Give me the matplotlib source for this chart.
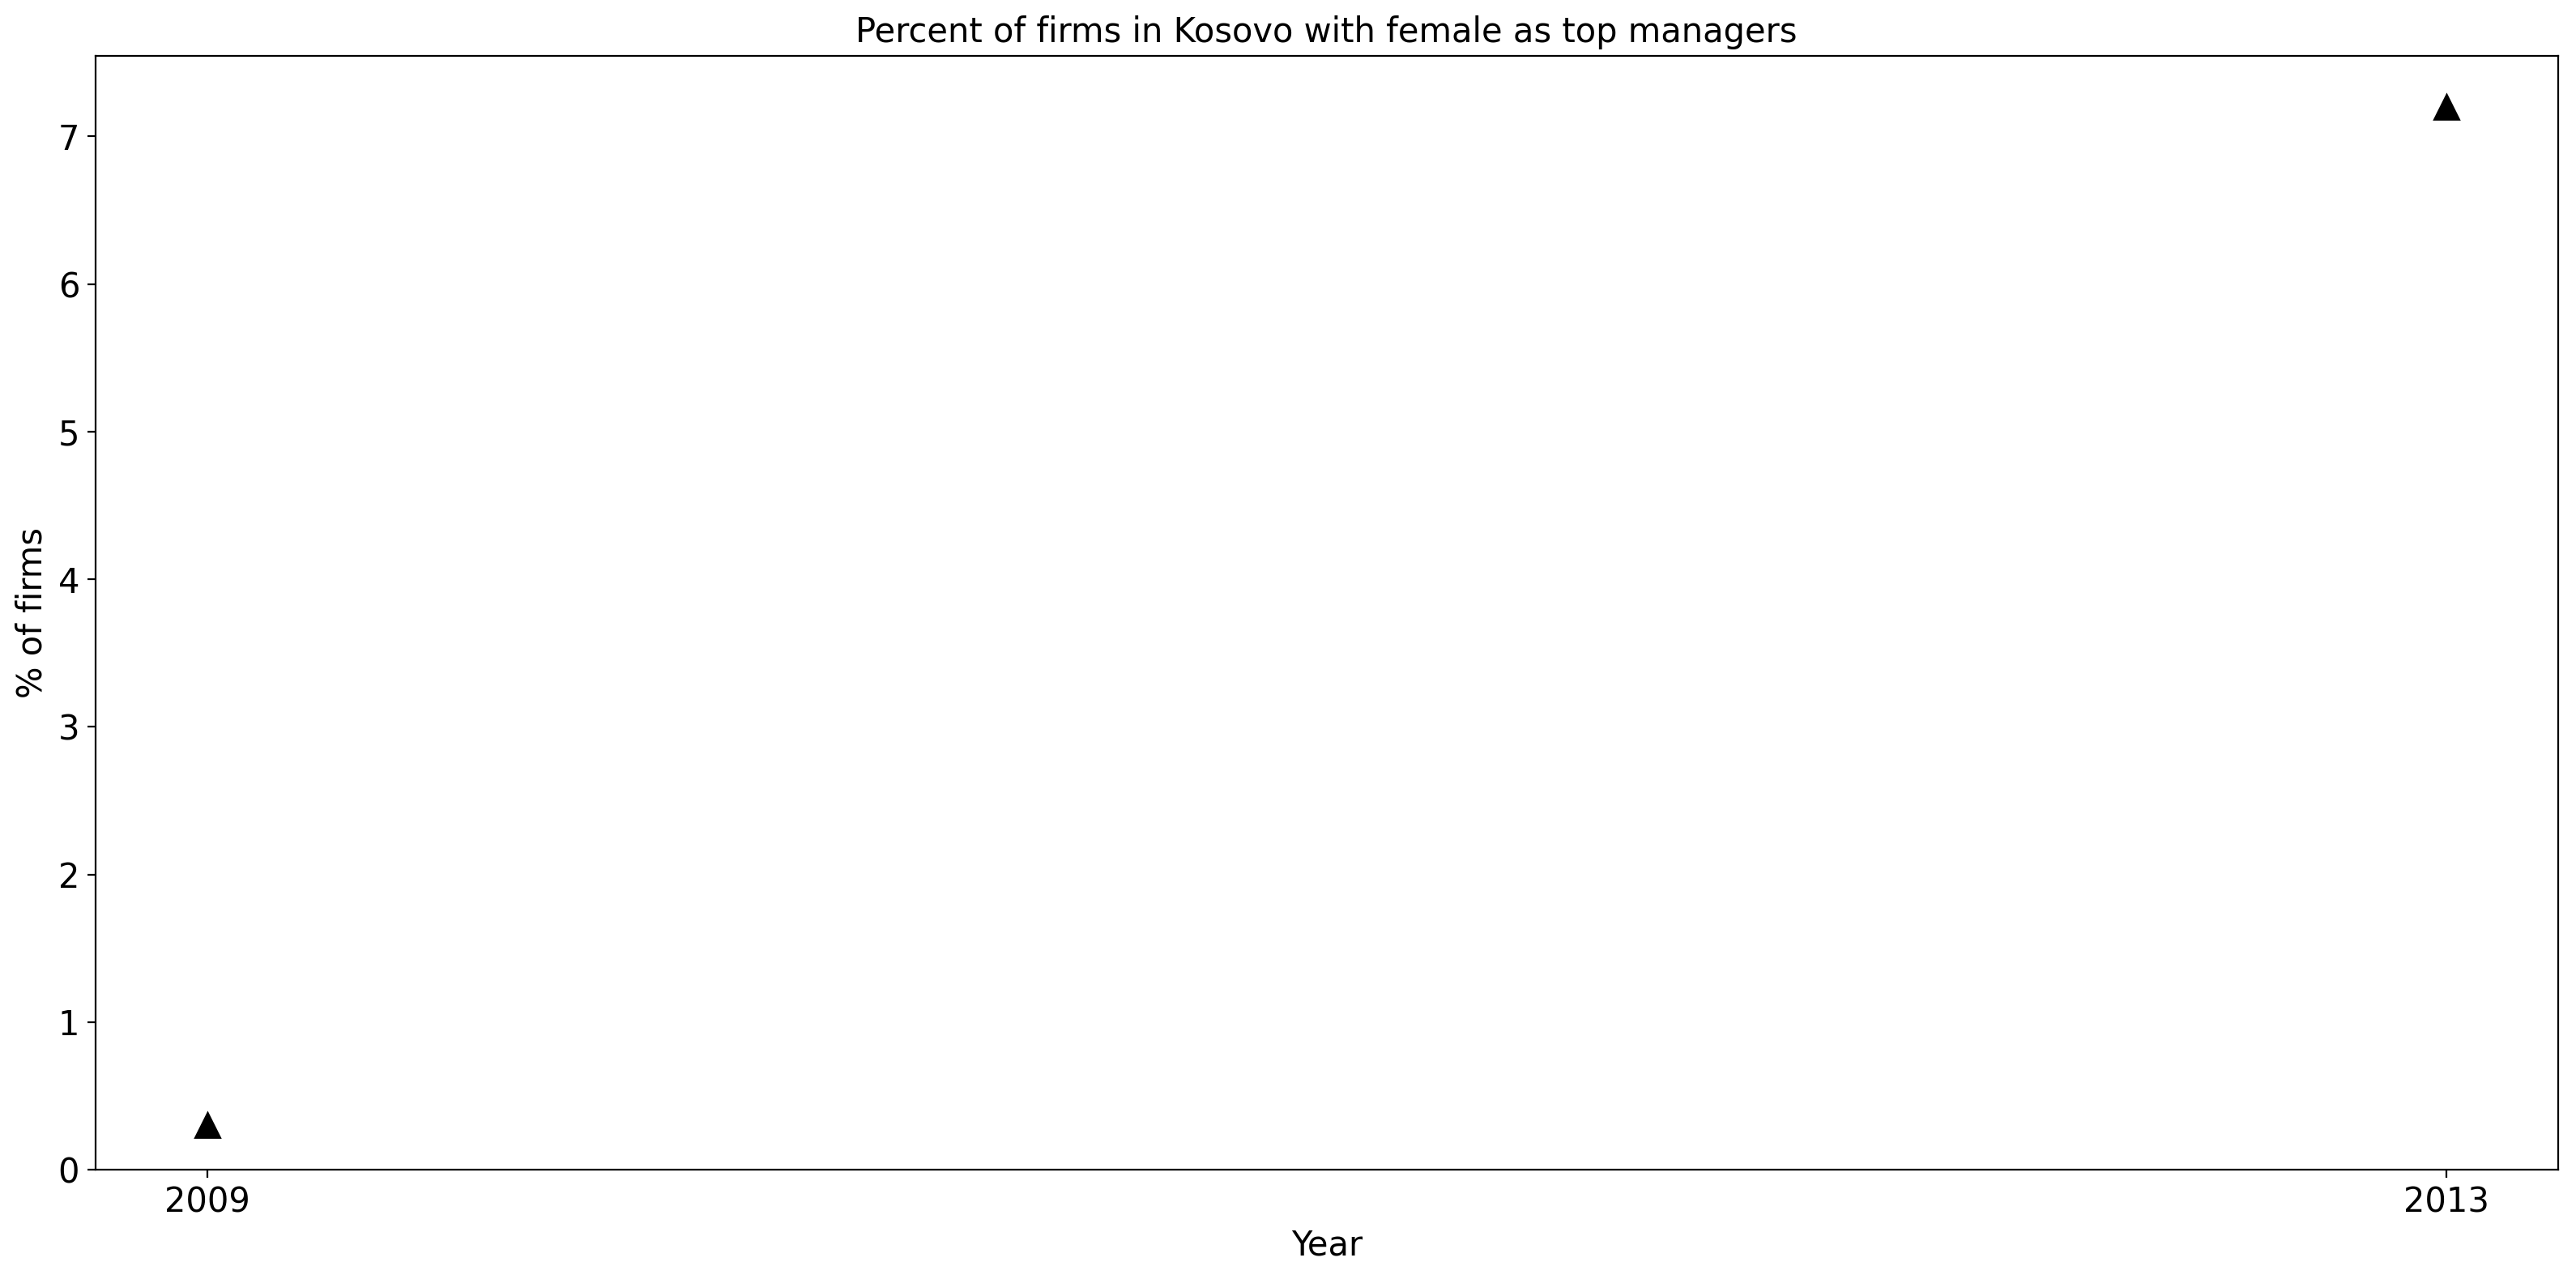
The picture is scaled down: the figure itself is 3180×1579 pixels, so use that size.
import matplotlib
matplotlib.use("Agg")
import matplotlib.pyplot as plt

years = [2009, 2013]
values = [0.3, 7.2]
title = "Percent of firms in Kosovo with female as top managers"

fs = 15
fig = plt.figure(figsize=(15.9, 7.895), dpi=200)
ax = fig.add_axes([0.037, 0.0855, 0.956, 0.8708])
ax.plot(years, values, linestyle="none", marker="^", color="black", markersize=10.5)
ax.set_ylim(bottom=0)
ax.set_xticks(years)
ax.set_xticklabels([str(y) for y in years])
ax.tick_params(labelsize=fs)
ax.set_title(title, fontsize=fs)
ax.set_xlabel("Year", fontsize=fs)
ax.set_ylabel("% of firms", fontsize=fs)
fig.savefig("out.png", dpi=200)
